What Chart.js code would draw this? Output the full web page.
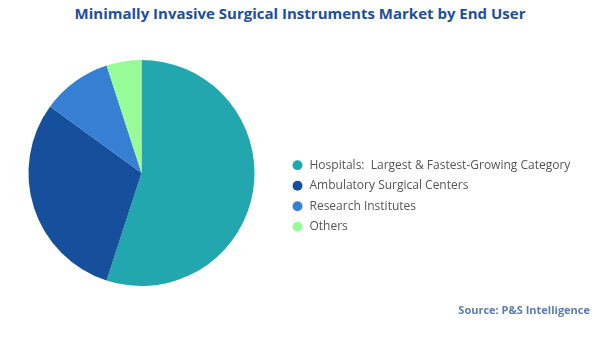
<!DOCTYPE html>
<html>
<head>
<meta charset="utf-8">
<script src="https://cdn.jsdelivr.net/npm/chart.js@4"></script>
<style>
  html, body { margin: 0; padding: 0; background: #fff; }
  #wrap { position: relative; width: 600px; height: 337px; }
  #title {
    position: absolute; left: 0; top: 3px; width: 600px; text-align: center;
    font: bold 15px "Open Sans", sans-serif; color: #1d4f9b;
  }
  #source {
    position: absolute; right: 10px; top: 302px;
    font: bold 11px "Open Sans", sans-serif; color: #5b7cb3;
  }
  canvas { position: absolute; left: 0; top: 0; }
</style>
</head>
<body>
<div id="wrap">
  <div id="title">Minimally Invasive Surgical Instruments Market by End User</div>
  <canvas id="pie" width="600" height="337"></canvas>
  <div id="source">Source: P&amp;S Intelligence</div>
</div>
<script>
// end user shares (%)
const endUsers = ["Hospitals:  Largest & Fastest-Growing Category", "Ambulatory Surgical Centers", "Research Institutes", "Others"];
const shares = [55, 30, 10, 5];
const sliceColors = ["#22a7ae", "#16509d", "#377fd3", "#97fc97"];

// nudge the legend block a bit lower than the pie centre
const legendShift = {
  id: "legendShift",
  afterLayout(chart) {
    const lg = chart.legend;
    lg.top += 23;
    lg.bottom += 23;
  }
};

new Chart(document.getElementById("pie"), {
  type: "pie",
  data: {
    labels: endUsers,
    datasets: [{
      data: shares,
      backgroundColor: sliceColors,
      borderWidth: 0
    }]
  },
  options: {
    responsive: false,
    animation: false,
    layout: { padding: { top: 60, bottom: 51, left: -12, right: 22 } },
    plugins: {
      tooltip: { enabled: false },
      legend: {
        position: "right",
        labels: {
          usePointStyle: true,
          pointStyle: "circle",
          boxWidth: 12,
          boxHeight: 7,
          padding: 8.5,
          color: "#555",
          font: { family: "Open Sans", size: 12 }
        }
      }
    }
  },
  plugins: [legendShift]
});
</script>
</body>
</html>
